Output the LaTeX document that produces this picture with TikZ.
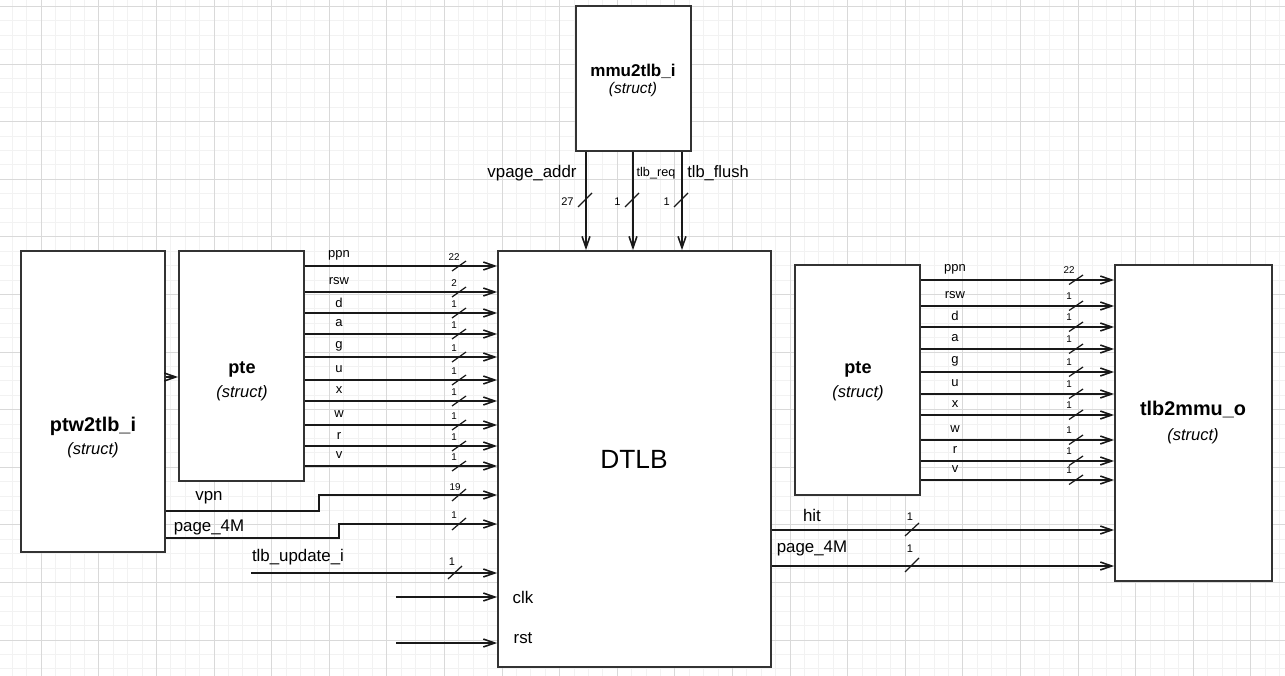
\documentclass[tikz,border=0pt]{standalone}
\usepackage{fontspec}
\setmainfont{Liberation Sans}
\usetikzlibrary{arrows.meta, calc}

\begin{document}
\begin{tikzpicture}[x=0.02cm,y=-0.02cm,
    minorgrid/.style={black!5, line width=0.5pt},
    majorgrid/.style={black!15, line width=0.5pt},
    blk/.style={draw=black!80, line width=1pt, fill=white, inner sep=0pt},
    sig/.style={black!90, line width=0.9pt, -{Straight Barb[length=6.5pt,width=4.5pt]}},
    tick/.style={black!90, line width=0.7pt},
    lbl/.style={inner sep=0pt, font=\fontsize{9.6}{11}\selectfont},
    small/.style={inner sep=0pt, font=\fontsize{7.4}{9}\selectfont},
    bits/.style={inner sep=0pt, font=\fontsize{5.6}{7}\selectfont},
    ttl/.style={inner sep=0pt, font=\bfseries\fontsize{11.3}{13}\selectfont},
    sub/.style={inner sep=0pt, font=\itshape\fontsize{9.4}{11}\selectfont}]
    \useasboundingbox (0,0) rectangle (1285,676);
    \fill[white] (0,0) rectangle (1285,676);
    % grid
    \foreach \k in {-2,...,86} \draw[minorgrid] ({41.3+\k*14.4},0) -- ++(0,676);
    \foreach \k in {0,...,46} \draw[minorgrid] (0,{6.4+\k*14.4}) -- ++(1285,0);
    \foreach \k in {-1,...,21} \draw[majorgrid] ({41.3+\k*57.6},0) -- ++(0,676);
    \foreach \k in {0,...,11} \draw[majorgrid] (0,{6.4+\k*57.6}) -- ++(1285,0);

    % blocks
    \node[blk, minimum width=2.30cm, minimum height=2.90cm] (mmu) at (633.5,78.5) {};
    \node[blk, minimum width=2.88cm, minimum height=6.02cm] (ptw) at (93,401.5) {};
    \node[blk, minimum width=2.50cm, minimum height=4.60cm] (pteL) at (241.5,366) {};
    \node[blk, minimum width=5.46cm, minimum height=8.32cm] (dtlb) at (634.5,459) {};
    \node[blk, minimum width=2.50cm, minimum height=4.60cm] (pteR) at (857.5,380) {};
    \node[blk, minimum width=3.14cm, minimum height=6.32cm] (tlbo) at (1193.5,423) {};

    \node[ttl, font=\bfseries\fontsize{9.7}{11}\selectfont] (mmuT) at (633,71) {mmu2tlb\_i};
    \node[sub, font=\itshape\fontsize{8.8}{10}\selectfont] (mmuS) at (633,89) {(struct)};
    \node[ttl] (ptwT) at (93,426) {ptw2tlb\_i};
    \node[sub] (ptwS) at (93,450) {(struct)};
    \node[ttl, font=\bfseries\fontsize{10.3}{12}\selectfont] (pteLT) at (242,369) {pte};
    \node[sub] (pteLS) at (242,393) {(struct)};
    \node[ttl, font=\bfseries\fontsize{10.3}{12}\selectfont] (pteRT) at (858,369) {pte};
    \node[sub] (pteRS) at (858,393) {(struct)};
    \node[ttl] (tlboT) at (1193,410) {tlb2mmu\_o};
    \node[sub] (tlboS) at (1193,436) {(struct)};
    \node[inner sep=0pt, font=\fontsize{15}{17}\selectfont] (dtlbT) at (634,459) {DTLB};

    % mmu2tlb_i -> DTLB
    \foreach \xx/\w [count=\i] in {586/27, 633/1, 682/1} {
      \draw[sig] (mmu.south -| \xx,0) -- (dtlb.north -| \xx,0);
      \draw[tick] (\xx-8,207) -- (\xx+6,193);
      \node[bits, font=\fontsize{6.3}{7}\selectfont, anchor=east] (tb\i) at (\xx-12,202) {\w};
    }
    \node[lbl] (vaddrL) at (532,173) {vpage\_addr};
    \node[lbl, font=\fontsize{7.2}{9}\selectfont] (treqL) at (656,173) {tlb\_req};
    \node[lbl, font=\fontsize{9.4}{11}\selectfont] (tflL) at (718,173) {tlb\_flush};

    % ptw2tlb_i -> pte
    \draw[sig] (ptw.east |- 0,377) -- (pteL.west |- 0,377);

    % pte -> DTLB
    \foreach \yy/\nm/\w [count=\i] in {266/ppn/22, 292/rsw/2, 313/d/1, 334/a/1, 357/g/1,
        380/u/1, 401/x/1, 425/w/1, 446/r/1, 466/v/1} {
      \draw[sig] (pteL.east |- 0,\yy) -- (dtlb.west |- 0,\yy);
      \node[small] (ln\i) at (339,\yy-10.5) {\nm};
      \draw[tick] (452,\yy+5) -- (466,\yy-5);
      \node[bits] (lb\i) at (454,\yy-8.5) {\w};
    }

    % vpn, page_4M
    \draw[sig] (ptw.east |- 0,511) -- ++(153,0) |- (dtlb.west |- 0,495);
    \node[lbl] (vpnL) at (209,498) {vpn};
    \draw[tick] (452,501) -- (466,489);
    \node[bits] (vpnB) at (455,487) {19};
    \draw[sig] (ptw.east |- 0,538) -- ++(173,0) |- (dtlb.west |- 0,524);
    \node[lbl] (p4mL) at (209,527) {page\_4M};
    \draw[tick] (452,530) -- (466,518);
    \node[bits] (p4mB) at (454,515) {1};

    % tlb_update_i, clk, rst
    \coordinate (updin) at (251,573);
    \draw[sig] (updin) -- (dtlb.west |- updin);
    \node[lbl] (updL) at (298,557) {tlb\_update\_i};
    \draw[tick] (448,579) -- (462,566);
    \node[bits, font=\fontsize{6.3}{7}\selectfont] (updB) at (452,562) {1};
    \coordinate (clkin) at (396,597);
    \draw[sig] (clkin) -- (dtlb.west |- clkin);
    \node[lbl] (clkL) at (523,597) {clk};
    \coordinate (rstin) at (396,643);
    \draw[sig] (rstin) -- (dtlb.west |- rstin);
    \node[lbl] (rstL) at (523,638) {rst};

    % pte -> tlb2mmu_o
    \foreach \yy/\nm/\w [count=\i] in {280/ppn/22, 306/rsw/1, 327/d/1, 349/a/1, 372/g/1,
        394/u/1, 415/x/1, 440/w/1, 461/r/1, 480/v/1} {
      \draw[sig] (pteR.east |- 0,\yy) -- (tlbo.west |- 0,\yy);
      \node[small] (rn\i) at (955,\yy-11) {\nm};
      \draw[tick] (1069,\yy+4.5) -- (1083,\yy-5);
      \node[bits] (rb\i) at (1069,\yy-9.5) {\w};
    }

    % DTLB -> tlb2mmu_o
    \draw[sig] (dtlb.east |- 0,530) -- (tlbo.west |- 0,530);
    \node[lbl] (hitL) at (812,515) {hit};
    \draw[tick] (905,536) -- (919,523);
    \node[bits, font=\fontsize{6.3}{7}\selectfont] (hitB) at (910,517) {1};
    \draw[sig] (dtlb.east |- 0,566) -- (tlbo.west |- 0,566);
    \node[lbl] (p4mR) at (812,548) {page\_4M};
    \draw[tick] (905,572) -- (919,558);
    \node[bits, font=\fontsize{6.3}{7}\selectfont] (p4mRB) at (910,549) {1};
\end{tikzpicture}
\end{document}
